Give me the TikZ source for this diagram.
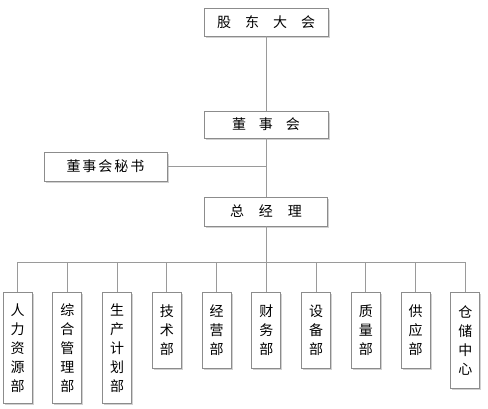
\documentclass[tikz,border=0pt]{standalone}
\usepackage{fontspec}
\setmainfont{Noto Sans CJK SC}
\usetikzlibrary{shadows}
\definecolor{boxgray}{HTML}{8C8C8C}
\definecolor{linegray}{HTML}{9A9A9A}
\begin{document}
\begin{tikzpicture}[x=1pt,y=-1pt,
  box/.style={draw=boxgray, fill=white, line width=0.8pt, inner sep=0pt,
    drop shadow={shadow xshift=1.6pt, shadow yshift=-1.6pt, fill=black!18, opacity=1},
    font=\fontsize{14}{19}\selectfont, align=center},
  topbox/.style={box, minimum width=124pt, minimum height=28pt},
  dept/.style={box, minimum width=29pt, anchor=north},
  conn/.style={draw=linegray, line width=0.8pt}]
\useasboundingbox (0,0) rectangle (488,408);
\node[topbox] (gd) at (266,22) {股\hspace{14pt}东\hspace{14pt}大\hspace{14pt}会};
\node[topbox, minimum height=27pt] (ds) at (266,124.5) {董\hspace{13pt}事\hspace{13pt}会};
\node[topbox, minimum width=123pt, minimum height=29pt] (ms) at (105.5,166.5) {董\hspace{2pt}事\hspace{2pt}会\hspace{2pt}秘\hspace{2pt}书};
\node[topbox, minimum width=123pt, minimum height=29pt] (zj) at (266,211.5) {总\hspace{15pt}经\hspace{15pt}理};
\coordinate (bar) at (266,262);
\node[dept, minimum height=111pt] (d1) at (17.5,292) {人\\力\\资\\源\\部};
\node[dept, minimum height=111pt] (d2) at (67.25,292) {综\\合\\管\\理\\部};
\node[dept, minimum height=111pt] (d3) at (117,292) {生\\产\\计\\划\\部};
\node[dept, minimum height=76pt] (d4) at (166.75,292) {技\\术\\部};
\node[dept, minimum height=76pt] (d5) at (216.5,292) {经\\营\\部};
\node[dept, minimum height=76pt] (d6) at (266.25,292) {财\\务\\部};
\node[dept, minimum height=76pt] (d7) at (316,292) {设\\备\\部};
\node[dept, minimum height=76pt] (d8) at (365.75,292) {质\\量\\部};
\node[dept, minimum height=76pt] (d9) at (415.5,292) {供\\应\\部};
\node[dept, minimum height=96pt] (d10) at (465.25,292) {仓\\储\\中\\心};
\draw[conn] (gd.south) -- (ds.north);
\draw[conn] (ds.south) -- (zj.north);
\draw[conn] (ms.east) -- (ms.east -| ds.south);
\draw[conn] (zj.south) -- (bar);
\draw[conn] (d1.north |- bar) -- (d10.north |- bar);
\foreach \d in {d1,d2,d3,d4,d5,d6,d7,d8,d9,d10}
  \draw[conn] (\d.north) -- (\d.north |- bar);
\end{tikzpicture}
\end{document}
